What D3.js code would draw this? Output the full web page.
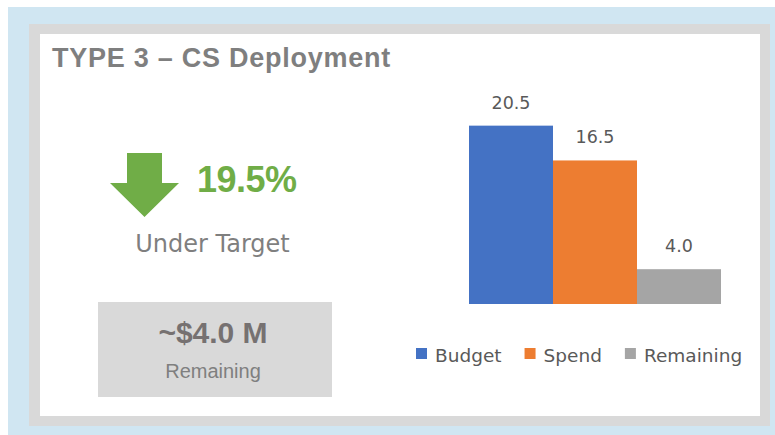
<!DOCTYPE html>
<html>
<head>
<meta charset="utf-8">
<title>type3-cs-deployment</title>
<script src="https://cdn.jsdelivr.net/npm/d3@7"></script>
<style>
    body { margin: 0; background: #ffffff; }
    .title { font-family: "Liberation Sans", Arial, sans-serif; font-weight: bold; fill: #7f7f7f; }
    .calib { font-family: "DejaVu Sans", Verdana, sans-serif; }
</style>
</head>
<body>
<div id="chart"></div>
<script>
var categories = ['Budget', 'Spend', 'Remaining'];
var values = [20.5, 16.5, 4.0];
var colors = ['#4472C4', '#ED7D31', '#A5A5A5'];
var titleText = 'TYPE 3 \u2013 CS Deployment';
var pctText = '19.5%';
var statusText = 'Under Target';
var remainText = '~$4.0 M';
var remainLabel = 'Remaining';

var width = 775, height = 435;

var svg = d3.select('#chart').append('svg')
    .attr('width', width).attr('height', height);

// frame: blue backdrop, gray border, white panel
svg.append('rect').attr('x', 8).attr('y', 7).attr('width', width - 8).attr('height', height - 7)
    .attr('fill', '#d0e6f2');
svg.append('rect').attr('x', 29).attr('y', 24).attr('width', 741).attr('height', 402)
    .attr('fill', '#d9d9d9');
svg.append('rect').attr('x', 40).attr('y', 34).attr('width', 720).attr('height', 382)
    .attr('fill', '#ffffff');

svg.append('text').attr('class', 'title')
    .attr('x', 52).attr('y', 67)
    .style('font-size', '27px').style('letter-spacing', '0.75px')
    .text(titleText);

// KPI block
var arrow = d3.path();
arrow.moveTo(127, 153); arrow.lineTo(162, 153); arrow.lineTo(162, 183);
arrow.lineTo(179, 183); arrow.lineTo(144.5, 217); arrow.lineTo(110, 183);
arrow.lineTo(127, 183); arrow.closePath();
svg.append('path').attr('d', arrow.toString()).attr('fill', '#70ad47');

svg.append('text').attr('class', 'title')
    .attr('x', 197).attr('y', 192)
    .style('font-size', '36px').style('fill', '#70ad47').style('letter-spacing', '-0.5px')
    .text(pctText);

svg.append('text').attr('class', 'calib')
    .attr('x', 212.5).attr('y', 252).attr('text-anchor', 'middle')
    .style('font-size', '24px').style('fill', '#7f7f7f')
    .text(statusText);

svg.append('rect').attr('x', 98).attr('y', 302).attr('width', 234).attr('height', 95)
    .attr('fill', '#d9d9d9');
svg.append('text').attr('class', 'title')
    .attr('x', 213).attr('y', 343).attr('text-anchor', 'middle')
    .style('font-size', '30px').style('fill', '#767171')
    .text(remainText);
svg.append('text')
    .attr('x', 213).attr('y', 378).attr('text-anchor', 'middle')
    .style('font-family', '"Liberation Sans", Arial, sans-serif')
    .style('font-size', '20px').style('fill', '#7f7f7f')
    .text(remainLabel);

// bar chart
var x = d3.scaleBand().domain(categories).range([469, 721]).padding(0);
var y = d3.scaleLinear().domain([0, 25]).range([304, 86.5]);
var color = d3.scaleOrdinal().domain(categories).range(colors);

var data = categories.map(function(c, i) { return {name: c, value: values[i]}; });

svg.append('g').selectAll('rect')
    .data(data)
    .enter().append('rect')
    .attr('x', function(d) { return x(d.name); })
    .attr('y', function(d) { return y(d.value); })
    .attr('width', x.bandwidth())
    .attr('height', function(d) { return y(0) - y(d.value); })
    .attr('fill', function(d) { return color(d.name); });

svg.append('g').selectAll('text')
    .data(data)
    .enter().append('text')
    .attr('class', 'calib')
    .attr('x', function(d) { return x(d.name) + x.bandwidth() / 2; })
    .attr('y', function(d) { return y(d.value) - 17; })
    .attr('text-anchor', 'middle')
    .style('font-size', '17.5px').style('fill', '#595959')
    .text(function(d) { return d.value.toFixed(1); });

// legend
var legend = svg.append('g').attr('transform', 'translate(416,348)');
var lx = 0;
categories.forEach(function(c) {
    var g = legend.append('g').attr('transform', 'translate(' + lx + ',0)');
    g.append('rect').attr('width', 11).attr('height', 11).attr('fill', color(c));
    var t = g.append('text').attr('class', 'calib')
        .attr('x', 19).attr('y', 14)
        .style('font-size', '18.5px').style('fill', '#595959')
        .text(c);
    lx += 19 + t.node().getComputedTextLength() + 23;
});
</script>
</body>
</html>
